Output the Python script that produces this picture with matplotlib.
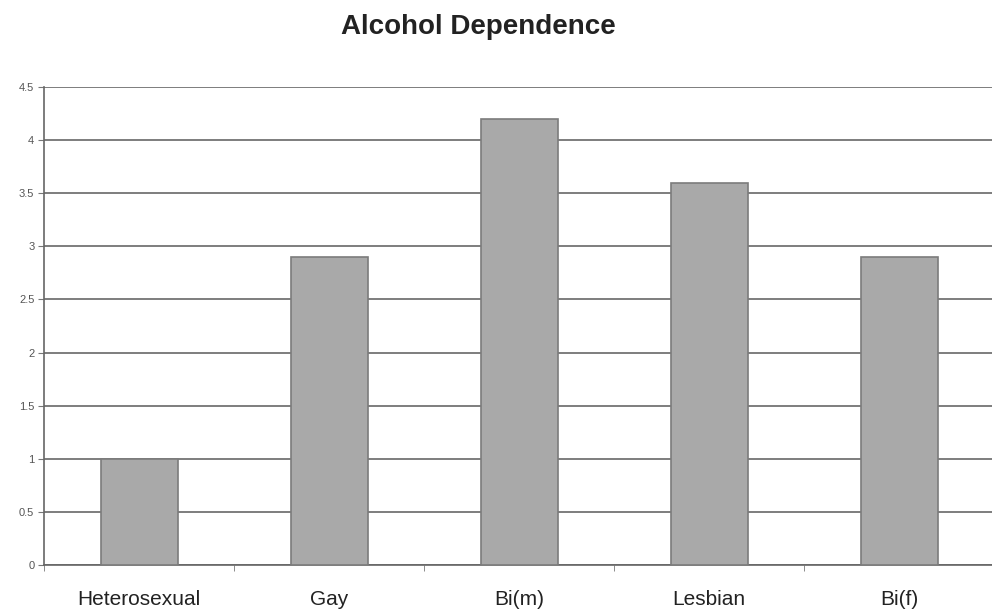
import matplotlib

matplotlib.use('Agg')
import numpy as np
import matplotlib.pyplot as plt

plt.rcParams['font.family'] = ['Liberation Sans', 'DejaVu Sans']

CATEGORIES = ['Heterosexual', 'Gay', 'Bi(m)', 'Lesbian', 'Bi(f)']
VALUES = [1.0, 2.9, 4.2, 3.6, 2.9]
Y_TICKS = [0, 0.5, 1, 1.5, 2, 2.5, 3, 3.5, 4, 4.5]
Y_LABELS = ['0', '0.5', '1', '1.5', '2', '2.5', '3', '3.5', '4', '4.5']

fig = plt.figure(figsize=(9.92, 6.10), dpi=100)
ax = fig.add_axes([0.0444, 0.0738, 0.9577, 0.7836])

x = np.arange(len(CATEGORIES))
ax.set_axisbelow(True)
ax.yaxis.grid(True, color='#5a5a5a', linewidth=1.1)
ax.bar(x, VALUES, width=0.405, color='#a9a9a9', edgecolor='#7c7c7c', linewidth=1.2, zorder=3)

ax.set_xlim(-0.5, len(CATEGORIES) - 0.5)
ax.set_ylim(0, 4.5)
ax.set_yticks(Y_TICKS)
ax.set_yticklabels(Y_LABELS, fontsize=8, color='#555555')
ax.set_xticks(x)
ax.set_xticklabels(CATEGORIES, fontsize=15, color='#222222')
ax.tick_params(axis='x', length=0, pad=18)
ax.set_xticks(np.arange(len(CATEGORIES) + 1) - 0.5, minor=True)
ax.tick_params(axis='x', which='minor', length=4, color='#777777')
ax.tick_params(axis='y', length=4, color='#777777', pad=3)

for side in ['top', 'right']:
    ax.spines[side].set_visible(False)
ax.spines['left'].set_color('#666666')
ax.spines['bottom'].set_color('#666666')
ax.spines['left'].set_linewidth(1.2)
ax.spines['bottom'].set_linewidth(1.2)

fig.text(0.482, 0.955, 'Alcohol Dependence', ha='center', va='center',
         fontsize=20, fontweight='bold', color='#222222')

fig.savefig('out.png', dpi=100)
